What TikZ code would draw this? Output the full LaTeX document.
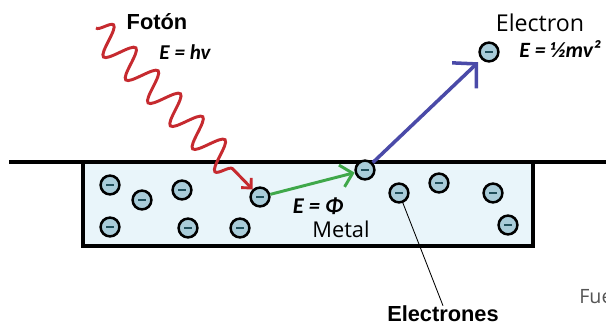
\documentclass[tikz,border=0pt]{standalone}
\usepackage{fontspec}
\setmainfont{Liberation Sans}
\newfontfamily\calfont{Carlito}
\newfontfamily\uifont{Open Sans}
\usetikzlibrary{arrows.meta, positioning, decorations.pathmorphing}
\definecolor{metalFl}{HTML}{E9F5FA}
\definecolor{elecFl}{HTML}{A9CCD9}
\definecolor{elecMn}{HTML}{1F4E5A}
\definecolor{photonCl}{HTML}{C62A2F}
\definecolor{escapeCl}{HTML}{4A4AA8}
\definecolor{workCl}{HTML}{3FA84A}
\definecolor{noteCl}{HTML}{555555}
\newcommand{\eq}{\calfont\bfseries\itshape}

\begin{document}
\begin{tikzpicture}[
  x=0.025cm, y=-0.025cm,
  electron/.style={circle, draw=black, line width=1.8pt, fill=elecFl,
                   minimum size=0.47cm, inner sep=0pt,
                   path picture={\draw[elecMn, line width=1.5pt]
                     ([xshift=-2.6pt]path picture bounding box.center) --
                     ([xshift=2.6pt]path picture bounding box.center);}},
  wave/.style={photonCl, line width=2.1pt, decorate,
               decoration={snake, amplitude=0.37cm, segment length=0.8cm,
                           post length=0.55cm},
               -{Straight Barb[length=5pt, width=10pt]}},
  escape/.style={escapeCl, line width=2.5pt, shorten >=3pt,
                 -{Straight Barb[length=12pt, width=25pt, line width=2.5pt]}},
  work/.style={workCl, line width=2.1pt,
               -{Straight Barb[length=8pt, width=16pt]}},
  lbl/.style={inner sep=0pt},
]
\useasboundingbox (0,0) rectangle (606,326);
\clip (0,0) rectangle (606,326);

% ---------------------------- the metal -----------------------------------
\fill[metalFl] (83,162) rectangle (533,246);
\draw[line width=2.3pt] (83,162) -- (83,246) -- (533,246) -- (533,162);
\draw[line width=2.8pt] (9,162) -- (606,162);

% ---------------------------- bound electrons -----------------------------
\node[electron] (e1)  at (110,185) {};
\node[electron] (e2)  at (142,200) {};
\node[electron] (e3)  at (182,190) {};
\node[electron] (e4)  at (110,227) {};
\node[electron] (e5)  at (188,228) {};
\node[electron] (e6)  at (240,228) {};
\node[electron] (hit) at (260,197) {};
\node[electron] (surf) at (365,170) {};
\node[electron] (e7)  at (399,193) {};
\node[electron] (e8)  at (439,183) {};
\node[electron] (e9)  at (493,193) {};
\node[electron] (e10) at (508,225) {};

% ---------------------------- the freed electron --------------------------
\node[electron] (emit) at (489,52) {};

% ---------------------------- labels --------------------------------------
\node[lbl, font=\fontsize{15.5}{18}\selectfont\bfseries] (foton) at (157,22) {Fotón};
\node[lbl, font=\fontsize{15}{18}\eq] (ehv) at (185,52) {E = hv};
\node[lbl, font=\fontsize{16.5}{19}\uifont] (elec) at (540,23) {Electron};
\node[lbl, anchor=west, font=\fontsize{15.5}{18}\eq] (ekin) at (519,49) {E = ½mv²};
\node[lbl, font=\fontsize{16}{19}\eq] (ephi) at (318,206) {E = Φ};
\node[lbl, font=\fontsize{15.5}{18}\uifont] (metal) at (341,229) {Metal};
\node[lbl, font=\fontsize{15.5}{18}\selectfont\bfseries] (elecs) at (443,314) {Electrones};
\node[lbl, anchor=west, font=\fontsize{14}{17}\uifont, text=noteCl] (fue) at (579,297) {Fue};

% ---------------------------- flow ----------------------------------------
\coordinate (photon) at (96,28);
\draw[wave] (photon) -- (hit);
\draw[work] (hit) -- (surf);
\draw[escape] (surf) -- (emit);

% the label points at one of the electrons in the metal
\draw[line width=0.6pt] (e7) -- (elecs.north);

\end{tikzpicture}
\end{document}
